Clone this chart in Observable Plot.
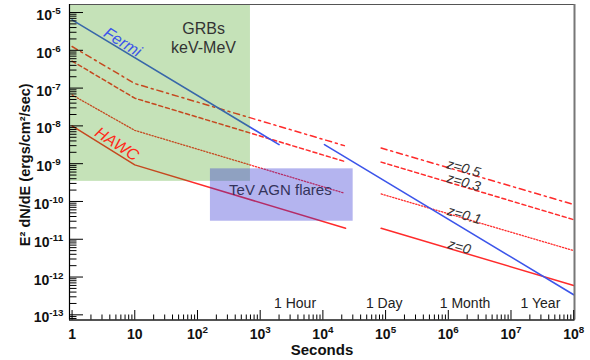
<!DOCTYPE html>
<html><head><meta charset="utf-8">
<script src="https://cdn.jsdelivr.net/npm/d3@7"></script>
<script src="https://cdn.jsdelivr.net/npm/@observablehq/plot@0.6"></script>
<style>body{margin:0;background:#fff;}</style>
</head><body><div id="chart"></div>
<script>
// ---- data (seconds, E^2 dN/dE in erg/cm^2/s) ----
const fermiT1 = [1, 2000];
const fermiF1 = [6.4e-6, 3.2e-9];
const fermiT2 = [1.06e4, 1e8];
const fermiF2 = [3.2e-9, 3.4e-13];

const hawcT1 = [1, 10, 2.3e4];
const hawcF1 = [1.0e-8, 9.3e-10, 1.95e-11];
const hawcT2 = [8.5e4, 1e8];
const hawcF2 = [1.95e-11, 6.0e-13];

const z01T1 = [1, 10, 2.2e4];
const z01F1 = [6.6e-8, 7.6e-9, 1.66e-10];
const z01T2 = [8.5e4, 1e8];
const z01F2 = [1.58e-10, 5.0e-12];

const z03T1 = [1, 10, 2.2e4];
const z03F1 = [5.2e-7, 5.4e-8, 1.15e-9];
const z03T2 = [8.5e4, 1e8];
const z03F2 = [1.1e-9, 3.3e-11];

const z05T1 = [1, 10, 2.2e4];
const z05F1 = [1.26e-6, 1.32e-7, 3.0e-9];
const z05T2 = [8.5e4, 1e8];
const z05F2 = [2.6e-9, 8.3e-11];

const grbBoxT = [null, 700];        // from left edge to 700 s
const grbBoxF = [3.4e-10, null];    // from 3.4e-10 to top
const agnBoxT = [161, 3.04e4];
const agnBoxF = [3.0e-11, 7.3e-10];

const xMajor = [1, 10, 1e2, 1e3, 1e4, 1e5, 1e6, 1e7, 1e8];
const yMajor = [1e-13, 1e-12, 1e-11, 1e-10, 1e-9, 1e-8, 1e-7, 1e-6, 1e-5];

const timeLabels = ["1 Hour", "1 Day", "1 Month", "1 Year"];
const timeLabelAt = [3600, 9.5e4, 1.85e6, 2.95e7];

const zLabels = ["z=0.5", "z=0.3", "z=0.1", "z=0"];
const zLabelT = [1.75e6, 1.75e6, 1.8e6, 1.5e6];
const zLabelF = [7.5e-10, 3.2e-10, 4.3e-11, 6.3e-12];

// ---- scales ----
const xDomain = [0.91, 1.03e8];
const yDomain = [7.3e-14, 1.63e-5];

const rows = (ts, fs, key) => ts.map((t, i) => ({t, f: fs[i], key}));
const fermi = [...rows(fermiT1, fermiF1, "a"), ...rows(fermiT2, fermiF2, "b")];
const hawc = [...rows(hawcT1, hawcF1, "a"), ...rows(hawcT2, hawcF2, "b")];
const z01 = [...rows(z01T1, z01F1, "a"), ...rows(z01T2, z01F2, "b")];
const z03 = [...rows(z03T1, z03F1, "a"), ...rows(z03T2, z03F2, "b")];
const z05 = [...rows(z05T1, z05F1, "a"), ...rows(z05T2, z05F2, "b")];

const xMinor = [];
for (let k = 0; k < 8; k++) for (let m = 2; m <= 9; m++) xMinor.push(m * 10 ** k);
const yMinor = [];
for (let k = -14; k < -5; k++) for (let m = 2; m <= 9; m++) {
  const v = m * 10 ** k; if (v >= yDomain[0] && v <= yDomain[1]) yMinor.push(v);
}
const expLabel = d => { const e = Math.round(Math.log10(d)); return e === 0 ? "1" : e === 1 ? "10" : "10^" + e; };

const RED = "#ff2b2b", BLUE = "#3c55ea";
const font = "Liberation Sans, Arial, Helvetica, sans-serif";

const chart = Plot.plot({
  width: 590, height: 360,
  marginLeft: 69, marginRight: 16, marginTop: 4, marginBottom: 40.5,
  style: {fontFamily: font, fontSize: "14px", background: "white", color: "#111"},
  x: {type: "log", domain: xDomain},
  y: {type: "log", domain: yDomain},
  marks: [
    Plot.line(z05, {x: "t", y: "f", z: "key", stroke: RED, strokeWidth: 1.5, strokeDasharray: "6,4,2,4"}),
    Plot.line(z03, {x: "t", y: "f", z: "key", stroke: RED, strokeWidth: 1.5, strokeDasharray: "4,3"}),
    Plot.line(z01, {x: "t", y: "f", z: "key", stroke: RED, strokeWidth: 1.3, strokeDasharray: "1.3,1.7"}),
    Plot.line(hawc, {x: "t", y: "f", z: "key", stroke: RED, strokeWidth: 1.5}),
    Plot.line(fermi, {x: "t", y: "f", z: "key", stroke: BLUE, strokeWidth: 1.6}),
    Plot.rect([0], {x1: () => grbBoxT[0] ?? xDomain[0], x2: () => grbBoxT[1], y1: () => grbBoxF[0], y2: () => grbBoxF[1] ?? yDomain[1], fill: "rgb(45,150,0)", fillOpacity: 0.28}),
    Plot.rect([0], {x1: () => agnBoxT[0], x2: () => agnBoxT[1], y1: () => agnBoxF[0], y2: () => agnBoxF[1], fill: "rgb(48,48,212)", fillOpacity: 0.36}),
    Plot.frame({stroke: "#555", strokeWidth: 1}),
    Plot.ruleX([xDomain[1]], {stroke: "#777", strokeWidth: 2}),
    Plot.ruleX([xDomain[0]], {stroke: "#000", strokeWidth: 1.2}),
    Plot.ruleY([yDomain[0]], {stroke: "#000", strokeWidth: 1.2}),
    // ticks (inward)
    Plot.axisY(yMajor, {anchor: "left", tickSize: 14, dx: 14, fill: "none", label: null, stroke: "#000"}),
    Plot.axisY(yMinor, {anchor: "left", tickSize: 7.5, dx: 7.5, fill: "none", label: null, stroke: "#000"}),
    Plot.axisX(xMajor, {anchor: "bottom", tickSize: 9.5, dy: -9.5, fill: "none", label: null, stroke: "#000"}),
    Plot.axisX(xMinor, {anchor: "bottom", tickSize: 5, dy: -5, fill: "none", label: null, stroke: "#000"}),
    // tick labels
    Plot.axisY(yMajor, {anchor: "left", tickSize: 0, tickPadding: 21, textAnchor: "middle", dy: 3, tickFormat: expLabel, label: null, fontWeight: "bold", fontSize: 14, fill: "#111"}),
    Plot.axisX(xMajor, {anchor: "bottom", tickSize: 0, tickPadding: 9, tickFormat: expLabel, label: null, fontWeight: "bold", fontSize: 14, fill: "#111"}),
    // axis titles
    Plot.text(["Seconds"], {frameAnchor: "bottom", dy: 30.5, lineAnchor: "middle", text: d => d, fontWeight: "bold", fontSize: 15, fill: "#111"}),
    Plot.text(["E² dN/dE (ergs/cm²/sec)"], {frameAnchor: "left", dx: -44, dy: 2.5, rotate: -90, textAnchor: "middle", lineAnchor: "middle", text: d => d, fontWeight: "bold", fontSize: 14.5, fill: "#111"}),
    // annotations
    Plot.text(["GRBs", "keV-MeV"], {x: [125, 125], y: [3.6e-6, 1.19e-6], text: d => d, fontSize: 16, fill: "#333"}),
    Plot.text(["TeV AGN flares"], {x: 2100, y: 2.04e-10, text: d => d, fontSize: 15, fill: "#33335a"}),
    Plot.text(["Fermi"], {x: 6.4, y: 1.63e-6, text: d => d, fontSize: 16, fontStyle: "italic", rotate: 32, fill: BLUE}),
    Plot.text(["HAWC"], {x: 5.2, y: 3.3e-9, text: d => d, fontSize: 16, fontStyle: "italic", rotate: 33, fill: "#ff2a1a"}),
    Plot.text(timeLabels, {x: (d, i) => timeLabelAt[i], y: () => 2e-13, text: d => d, fontSize: 14, fill: "#222"}),
    Plot.text(zLabels, {x: (d, i) => zLabelT[i], y: (d, i) => zLabelF[i], text: d => d, fontSize: 14, fontStyle: "italic", rotate: 16, fill: "#333"})
  ]
});

// superscripts for "10^n" tick labels
chart.querySelectorAll("text").forEach(t => {
  const m = t.textContent.match(/^10\^(-?\d+)$/);
  if (m) {
    t.textContent = "10";
    const ts = document.createElementNS("http://www.w3.org/2000/svg", "tspan");
    ts.setAttribute("dy", "-0.6em");
    ts.setAttribute("font-size", "0.7em");
    ts.textContent = m[1];
    t.appendChild(ts);
  }
});
document.getElementById("chart").appendChild(chart);
</script>
</body></html>
